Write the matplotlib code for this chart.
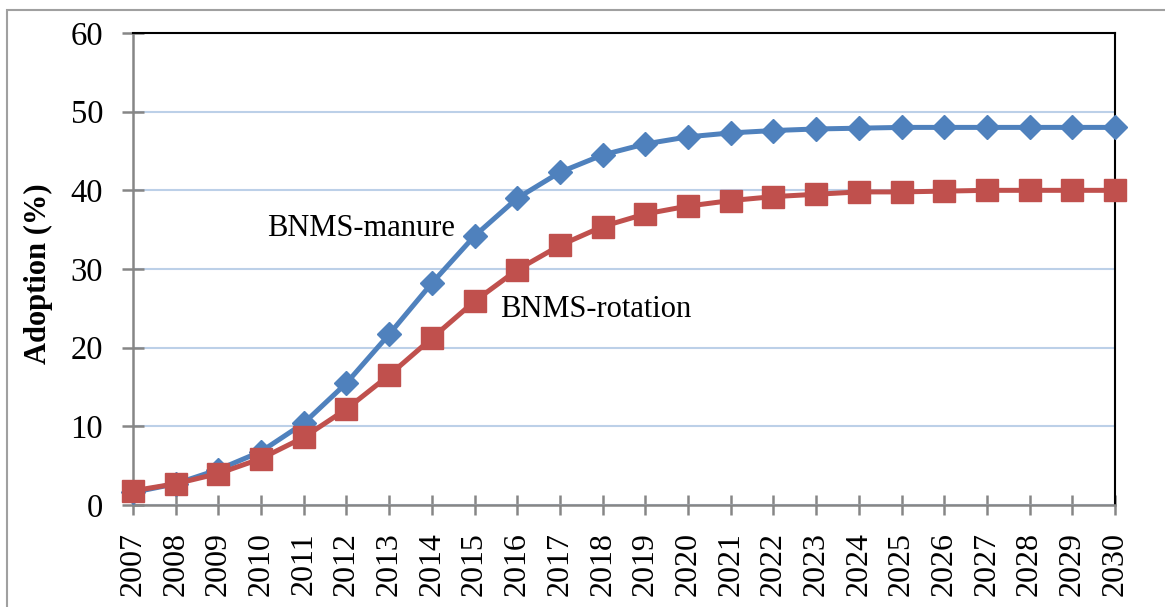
import matplotlib
matplotlib.use("Agg")
import matplotlib.pyplot as plt
from matplotlib.patches import Rectangle

# adoption curves
years = list(range(2007, 2031))
manure = [1.6, 2.7, 4.5, 6.8, 10.4, 15.5, 21.7, 28.2, 34.2, 39.0, 42.3, 44.5,
          45.9, 46.8, 47.3, 47.6, 47.8, 47.9, 48.0, 48.0, 48.0, 48.0, 48.0, 48.0]
rotation = [1.8, 2.7, 4.0, 5.9, 8.6, 12.2, 16.5, 21.2, 25.9, 29.9, 33.0, 35.4,
            37.0, 38.0, 38.7, 39.2, 39.5, 39.8, 39.8, 39.9, 40.0, 40.0, 40.0, 40.0]
y_ticks = [0, 10, 20, 30, 40, 50, 60]

BLUE = "#4F81BD"
RED = "#C0504D"
GRID = "#BCD0E8"
AXIS_GRAY = "#868686"

plt.rcParams["font.family"] = ["Liberation Serif", "DejaVu Serif"]

fig = plt.figure(figsize=(11.65, 6.07), dpi=100)
ax = fig.add_axes([133 / 1165, 1 - 505 / 607, (1115 - 133) / 1165, (505 - 33) / 607])

# outer chart frame
fig.patches.append(Rectangle((7 / 1165, -0.1), 1.2, 1 - 10 / 607 + 0.1,
                             transform=fig.transFigure, fill=False,
                             edgecolor="#A0A0A0", linewidth=1.5))

ax.plot(years, manure, color=BLUE, linewidth=3.6, marker="D", markersize=12,
        clip_on=False, zorder=3)
ax.plot(years, rotation, color=RED, linewidth=3.6, marker="s", markersize=16,
        clip_on=False, zorder=4)

ax.set_xlim(2007, 2030)
ax.set_ylim(0, 60)
ax.set_xticks(years)
ax.set_xticklabels([str(y) for y in years], rotation=90, fontsize=23)
ax.set_yticks(y_ticks)
ax.set_yticklabels([str(v) for v in y_ticks], fontsize=23.5)

ax.grid(axis="y", color=GRID, linewidth=1.5)
ax.set_axisbelow(True)

for side in ("left", "bottom"):
    ax.spines[side].set_color(AXIS_GRAY)
    ax.spines[side].set_linewidth(1.8)
for side in ("top", "right"):
    ax.spines[side].set_color("black")
    ax.spines[side].set_linewidth(1.5)

ax.tick_params(axis="x", direction="inout", length=15, width=1.8,
               color=AXIS_GRAY, pad=12)
ax.tick_params(axis="y", direction="inout", length=16, width=1.8,
               color=AXIS_GRAY, pad=13.5)

fig.text(38 / 1165, 1 - 274 / 607, "Adoption (%)", rotation=90, fontsize=22,
         fontweight="bold", ha="center", va="center")

ax.text(2010.14, 35.2, "BNMS-manure", fontsize=22, ha="left", va="center")
ax.text(2015.6, 24.8, "BNMS-rotation", fontsize=22, ha="left", va="center")

fig.savefig("out.png", dpi=100)
